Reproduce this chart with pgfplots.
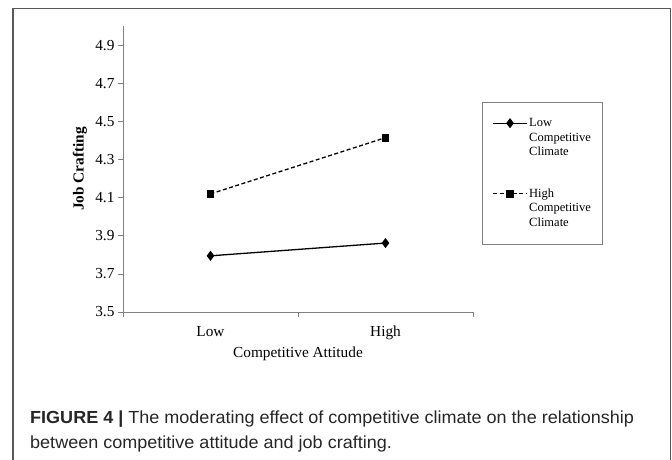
\documentclass[border=0pt]{standalone}
\usepackage{fontspec}
\setmainfont{Liberation Serif}
\newfontfamily\capfont[FakeStretch=1.03]{Liberation Sans}
\usepackage{pgfplots}
\pgfplotsset{compat=1.18}
\newcommand{\legtext}[1]{\fontsize{12.5}{14.5}\selectfont\begin{tabular}{@{}l@{}}#1\\Competitive\\Climate\end{tabular}}

\begin{document}
\begin{tikzpicture}[x=1pt,y=1pt]
\useasboundingbox (0,0) rectangle (672,-459);
\draw[line width=1.5pt, black!65] (13,-462) -- (13,-8.5) -- (670.5,-8.5) -- (670.5,-462);
\begin{axis}[
  at={(123pt,-312pt)}, anchor=south west,
  scale only axis, width=350pt, height=285.75pt,
  xmin=0, xmax=2, ymin=3.5, ymax=5.0,
  axis lines*=left,
  axis line style={black!50, line width=0.8pt},
  tick style={black!50, line width=0.8pt},
  tick align=outside,
  major tick length=5pt,
  /pgf/number format/assume math mode=true,
  tick label style={font=\fontsize{15.3}{18}\selectfont},
  xtick={0,1,2}, xticklabels={},
  extra x ticks={0.5,1.5}, extra x tick labels={Low,High},
  extra x tick style={major tick length=0pt, tick label style={anchor=base, yshift=-24pt}},
  ytick={3.5,3.7,3.9,4.1,4.3,4.5,4.7,4.9},
  yticklabel style={/pgf/number format/fixed, /pgf/number format/fixed zerofill, /pgf/number format/precision=1},
  xlabel={Competitive Attitude},
  xlabel style={at={(axis description cs:0.5,0)}, anchor=base, yshift=-45pt, font=\fontsize{15.3}{18}\selectfont},
  ylabel={Job Crafting},
  ylabel style={at={(axis description cs:-0.1229,0.5)}, anchor=center, font=\bfseries\fontsize{15.3}{18}\selectfont},
  legend style={nodes={inner xsep=1.5pt, inner ysep=0pt, text depth=}, cells={anchor=west},
    at={(axis description cs:1.0257,0.7349)}, anchor=north west,
    draw=black!50, line width=0.8pt, fill=white,
    inner xsep=10pt, inner ysep=14pt, row sep=27pt, column sep=0pt},
  legend image code/.code={\draw[mark repeat=2, mark phase=2, yshift=15pt, #1] plot coordinates {(0pt,0pt) (17pt,0pt) (34pt,0pt)};},
]
\addplot[black, line width=1.3pt, mark=diamond*, mark size=4pt] coordinates {(0.5,3.795) (1.5,3.862)};
\addlegendentry{\legtext{Low}}
\addplot[black, line width=1.3pt, dash pattern=on 4pt off 2.5pt, mark=square*, mark size=3.3pt, mark options={solid}] coordinates {(0.5,4.12) (1.5,4.415)};
\addlegendentry{\legtext{High}}
\end{axis}
\node[anchor=base west, inner sep=0pt, text=black!85, font=\capfont\fontsize{17.5}{21}\selectfont] at (30,-423) {\textbf{FIGURE 4 |} The moderating effect of competitive climate on the relationship};
\node[anchor=base west, inner sep=0pt, text=black!85, font=\capfont\fontsize{17.5}{21}\selectfont] at (30,-448) {between competitive attitude and job crafting.};
\end{tikzpicture}
\end{document}
